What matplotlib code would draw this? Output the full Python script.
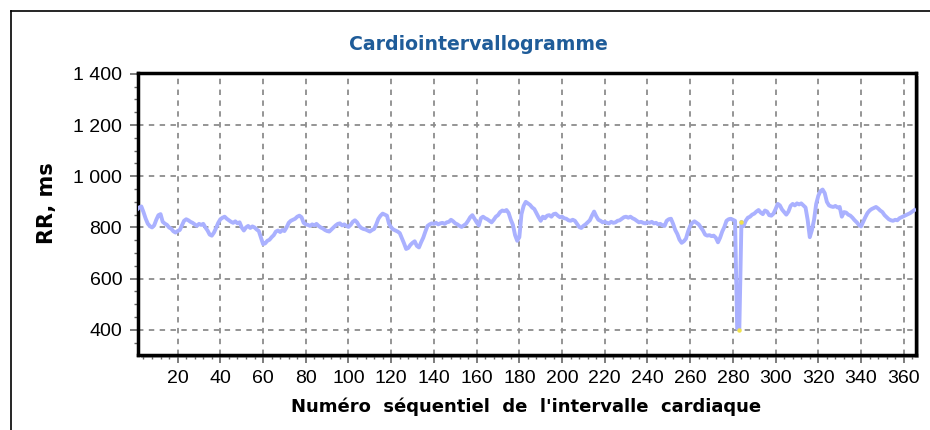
import numpy as np
import matplotlib.pyplot as plt
from matplotlib.ticker import MultipleLocator, FuncFormatter
from matplotlib.lines import Line2D
from matplotlib.patches import Rectangle

plt.rcParams['font.family'] = ['DejaVu Sans']

# RR intervals (ms), beat 1..365
rr = [
    870, 878, 882, 860, 835, 815, 805, 800, 808, 830, 848, 852, 822, 815, 810, 800, 795, 785, 780, 786,
    790, 808, 826, 832, 828, 822, 818, 812, 806, 814, 810, 814, 800, 788, 772, 768, 780, 798, 818, 832,
    838, 842, 834, 828, 822, 818, 824, 816, 820, 800, 788, 800, 806, 798, 804, 800, 792, 786, 760, 735,
    738, 748, 752, 762, 770, 784, 788, 782, 790, 786, 800, 818, 826, 830, 834, 842, 846, 840, 818, 812,
    810, 806, 812, 808, 814, 806, 800, 796, 790, 786, 784, 792, 800, 808, 814, 816, 808, 812, 806, 802,
    810, 822, 828, 820, 806, 798, 794, 792, 788, 784, 790, 794, 812, 834, 846, 854, 850, 846, 814, 800,
    792, 788, 784, 778, 758, 738, 716, 720, 732, 740, 746, 728, 722, 742, 760, 784, 806, 812, 816, 814,
    818, 812, 816, 818, 814, 820, 822, 830, 824, 816, 812, 806, 802, 808, 814, 826, 840, 848, 834, 820,
    808, 836, 842, 836, 832, 826, 820, 830, 842, 848, 860, 866, 864, 868, 856, 830, 810, 770, 748, 762,
    852, 884, 900, 894, 888, 878, 872, 856, 840, 826, 842, 836, 846, 848, 842, 852, 854, 846, 840, 842,
    836, 834, 828, 826, 830, 826, 814, 802, 798, 806, 812, 820, 828, 846, 862, 844, 830, 826, 820, 822,
    818, 816, 822, 818, 820, 826, 828, 834, 840, 842, 838, 842, 836, 832, 826, 820, 822, 818, 816, 820,
    818, 822, 816, 818, 812, 814, 808, 806, 826, 832, 834, 814, 790, 774, 752, 740, 746, 756, 784, 806,
    818, 824, 818, 812, 800, 788, 772, 768, 770, 766, 768, 760, 742, 760, 784, 802, 826, 832, 834, 830,
    826, 406, 400, 822, 806, 826, 838, 842, 850, 854, 862, 868, 858, 852, 866, 862, 848, 846, 854, 872,
    892, 886, 870, 860, 850, 862, 884, 892, 886, 894, 890, 894, 886, 878, 830, 762, 790, 830, 892, 924,
    942, 948, 934, 900, 886, 882, 880, 884, 878, 880, 842, 860, 858, 850, 846, 838, 828, 820, 810, 804,
    822, 840, 856, 866, 872, 876, 880, 874, 866, 860, 848, 840, 832, 828, 826, 830, 828, 836, 840, 844,
    848, 852, 856, 862, 868,
]
beats = np.arange(1, len(rr) + 1)

# beats flagged in yellow around the artefact
flagged = [283, 284]

title = "Cardiointervallogramme"
xlabel = "Numéro  séquentiel  de  l'intervalle  cardiaque"
ylabel = "RR, ms"

fig = plt.figure(figsize=(9.3, 4.3), dpi=100)
W, H = 930, 430

# outer frame (top and left edges only visible)
fig.add_artist(Line2D([11 / W, 1], [1 - 11 / H, 1 - 11 / H], color='black', lw=1.2))
fig.add_artist(Line2D([11 / W, 11 / W], [0, 1 - 11 / H], color='black', lw=1.2))

left, right, bottom, top = 137.5 / W, 915.5 / W, 1 - 355 / H, 1 - 72.5 / H
# drop shadow behind the plot box
fig.add_artist(Rectangle((left + 3 / W, bottom - 3 / H), right - left, top - bottom,
                         facecolor='#b0b0b0', edgecolor='none', zorder=0))
ax = fig.add_axes([left, bottom, right - left, top - bottom])
ax.set_facecolor('white')

ax.plot(beats, rr, color='#aab1ff', lw=2.8, solid_joinstyle='round', zorder=3)
ax.plot(flagged, [rr[b - 1] for b in flagged], ls='none', marker='o', ms=2.2,
        color='#f2e34a', zorder=4)

ax.set_xlim(1.2, 365.5)
ax.set_ylim(302, 1405)
ax.xaxis.set_minor_locator(MultipleLocator(4))
ax.yaxis.set_minor_locator(MultipleLocator(50))
ax.set_xticks(np.arange(20, 361, 20))
ax.set_yticks(np.arange(400, 1401, 200))
ax.yaxis.set_major_formatter(FuncFormatter(lambda v, p: f"{int(v):,}".replace(",", " ")))

ax.grid(True, which='major', color='#8c8c8c', linestyle=(0, (3, 3)), lw=1.3)
ax.tick_params(which='major', direction='out', length=6, width=1.2, color='#666666',
               labelsize=14, pad=5)
ax.tick_params(which='minor', direction='out', length=3, width=1, color='#666666')
for lab in ax.get_xticklabels() + ax.get_yticklabels():
    lab.set_fontfamily('Liberation Sans')
for s in ax.spines.values():
    s.set_linewidth(2.5)
    s.set_color('black')

ax.set_xlabel(xlabel, fontsize=13, fontweight='bold', labelpad=7)
ax.set_ylabel(ylabel, fontsize=15, fontweight='bold')
ax.yaxis.set_label_coords(-0.104, 0.538)
fig.text(478 / W, 1 - 44.5 / H, title, ha='center', va='center', fontsize=13.6,
         fontweight='bold', color='#1f5c99')

fig.savefig('out.png', dpi=100)
